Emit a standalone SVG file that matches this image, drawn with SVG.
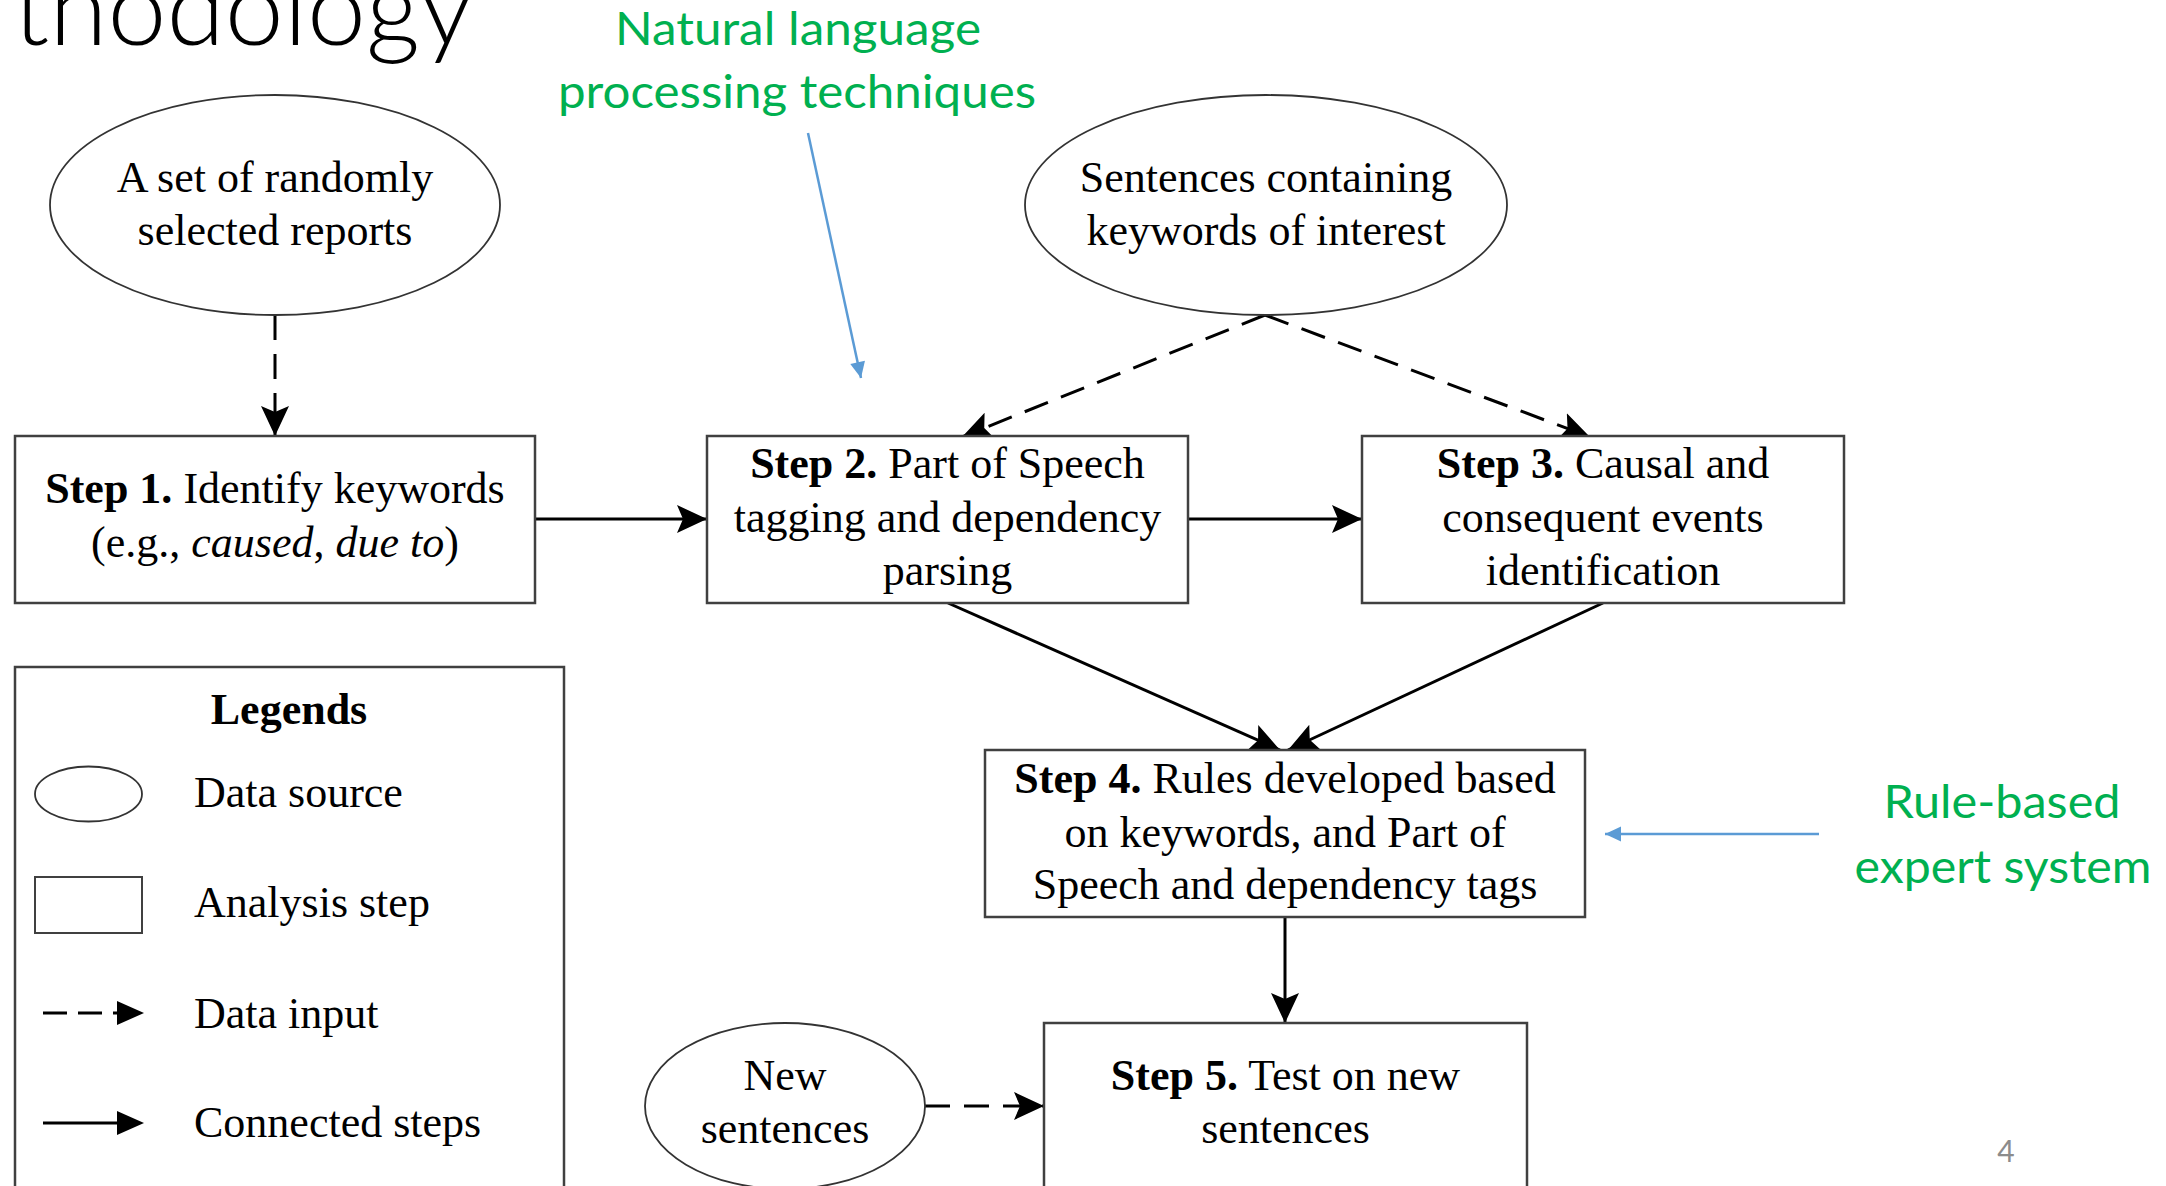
<svg xmlns="http://www.w3.org/2000/svg" width="2166" height="1186" viewBox="0 0 2166 1186">
<defs>
<style>
.box{fill:#fff;stroke:#404040;stroke-width:2.5}
.ell{fill:#fff;stroke:#333;stroke-width:1.8}
.t{font-family:"Liberation Serif","Times New Roman",serif;font-size:44px;fill:#000;text-anchor:middle}
.tl{font-family:"Liberation Serif","Times New Roman",serif;font-size:44px;fill:#000}
.b{font-weight:bold}
.i{font-style:italic}
.g{font-family:Lato,"Open Sans",sans-serif;font-size:46px;fill:#00B050;text-anchor:middle}
.solid{stroke:#000;stroke-width:3;fill:none;marker-end:url(#ah)}
.dash{stroke:#000;stroke-width:3;fill:none;stroke-dasharray:25 14;marker-end:url(#ah)}
.blue{stroke:#5B9BD5;stroke-width:2.5;fill:none;marker-end:url(#bh)}
</style>
<marker id="ah" viewBox="-30 -15 31 30" refX="0" refY="0" markerWidth="31" markerHeight="30" markerUnits="userSpaceOnUse" orient="auto">
<path d="M0,0 L-30,-14 L-24,0 L-30,14 Z" fill="#000"/>
</marker>
<marker id="bh" viewBox="-17 -8 18 16" refX="0" refY="0" markerWidth="18" markerHeight="16" markerUnits="userSpaceOnUse" orient="auto">
<path d="M0,0 L-16,-7.5 L-16,7.5 Z" fill="#5B9BD5"/>
</marker>
</defs>
<rect width="2166" height="1186" fill="#fff"/>

<text x="13" y="45" font-family="Lato,'Open Sans',sans-serif" font-weight="300" font-size="104" textLength="460" lengthAdjust="spacingAndGlyphs" fill="#000">thodology</text>

<g id="label-nlp">
<text class="g" x="798" y="45" textLength="366" lengthAdjust="spacingAndGlyphs">Natural language</text>
<text class="g" x="797" y="108" textLength="478" lengthAdjust="spacingAndGlyphs">processing techniques</text>
</g>
<g id="label-rule">
<text class="g" x="2002" y="818" textLength="237" lengthAdjust="spacingAndGlyphs">Rule-based</text>
<text class="g" x="2003" y="883" textLength="297" lengthAdjust="spacingAndGlyphs">expert system</text>
</g>
<text x="2006" y="1162" font-family="Lato,'Open Sans',sans-serif" font-size="30" fill="#8c8c8c" text-anchor="middle">4</text>

<g id="connectors">
<line class="dash" x1="275" y1="315" x2="275" y2="436"/>
<line class="dash" x1="1265" y1="315" x2="962" y2="437"/>
<line class="dash" x1="1265" y1="315" x2="1590" y2="437"/>
<line class="solid" x1="535" y1="519" x2="707" y2="519"/>
<line class="solid" x1="1188" y1="519" x2="1362" y2="519"/>
<line class="solid" x1="948" y1="603" x2="1280" y2="750"/>
<line class="solid" x1="1603" y1="603" x2="1288" y2="750"/>
<line class="solid" x1="1285" y1="917" x2="1285" y2="1023"/>
<line class="dash" x1="925" y1="1106" x2="1044" y2="1106"/>
<line class="blue" x1="808" y1="133" x2="861" y2="378"/>
<line class="blue" x1="1819" y1="834" x2="1605" y2="834"/>
</g>

<g id="src-reports">
<ellipse class="ell" cx="275" cy="205" rx="225" ry="110"/>
<text class="t" x="275" y="192">A set of randomly</text>
<text class="t" x="275" y="245">selected reports</text>
</g>

<g id="src-sentences">
<ellipse class="ell" cx="1266" cy="205" rx="241" ry="110"/>
<text class="t" x="1266" y="192">Sentences containing</text>
<text class="t" x="1266" y="245">keywords of interest</text>
</g>

<g id="step1">
<rect class="box" x="15" y="436" width="520" height="167"/>
<text class="t" x="275" y="503"><tspan class="b">Step 1.</tspan> Identify keywords</text>
<text class="t" x="275" y="557">(e.g., <tspan class="i">caused</tspan>, <tspan class="i">due to</tspan>)</text>
</g>

<g id="step2">
<rect class="box" x="707" y="436" width="481" height="167"/>
<text class="t" x="947.5" y="478"><tspan class="b">Step 2.</tspan> Part of Speech</text>
<text class="t" x="947.5" y="532">tagging and dependency</text>
<text class="t" x="947.5" y="585">parsing</text>
</g>

<g id="step3">
<rect class="box" x="1362" y="436" width="482" height="167"/>
<text class="t" x="1603" y="478"><tspan class="b">Step 3.</tspan> Causal and</text>
<text class="t" x="1603" y="532">consequent events</text>
<text class="t" x="1603" y="585">identification</text>
</g>

<g id="step4">
<rect class="box" x="985" y="750" width="600" height="167"/>
<text class="t" x="1285" y="793"><tspan class="b">Step 4.</tspan> Rules developed based</text>
<text class="t" x="1285" y="847">on keywords, and Part of</text>
<text class="t" x="1285" y="899">Speech and dependency tags</text>
</g>

<g id="step5">
<rect class="box" x="1044" y="1023" width="483" height="200"/>
<text class="t" x="1285.5" y="1090"><tspan class="b">Step 5.</tspan> Test on new</text>
<text class="t" x="1285.5" y="1143">sentences</text>
</g>

<g id="src-new">
<ellipse class="ell" cx="785" cy="1106" rx="140" ry="83"/>
<text class="t" x="785" y="1090">New</text>
<text class="t" x="785" y="1143">sentences</text>
</g>

<g id="legend">
<rect class="box" x="15" y="667" width="549" height="560"/>
<text class="t b" x="289" y="724">Legends</text>
<ellipse class="ell" cx="88.5" cy="794" rx="53.5" ry="27.5"/>
<text class="tl" x="194" y="807">Data source</text>
<rect class="box" x="35" y="877" width="107" height="56" style="stroke-width:2"/>
<text class="tl" x="194" y="917">Analysis step</text>
<line x1="43" y1="1013" x2="117" y2="1013" stroke="#000" stroke-width="3" stroke-dasharray="24 11"/>
<path d="M144,1013 L117,1001 L117,1025 Z" fill="#000"/>
<text class="tl" x="194" y="1028">Data input</text>
<line x1="43" y1="1123" x2="120" y2="1123" stroke="#000" stroke-width="3"/>
<path d="M144,1123 L117,1111 L117,1135 Z" fill="#000"/>
<text class="tl" x="194" y="1137">Connected steps</text>
</g>
</svg>
